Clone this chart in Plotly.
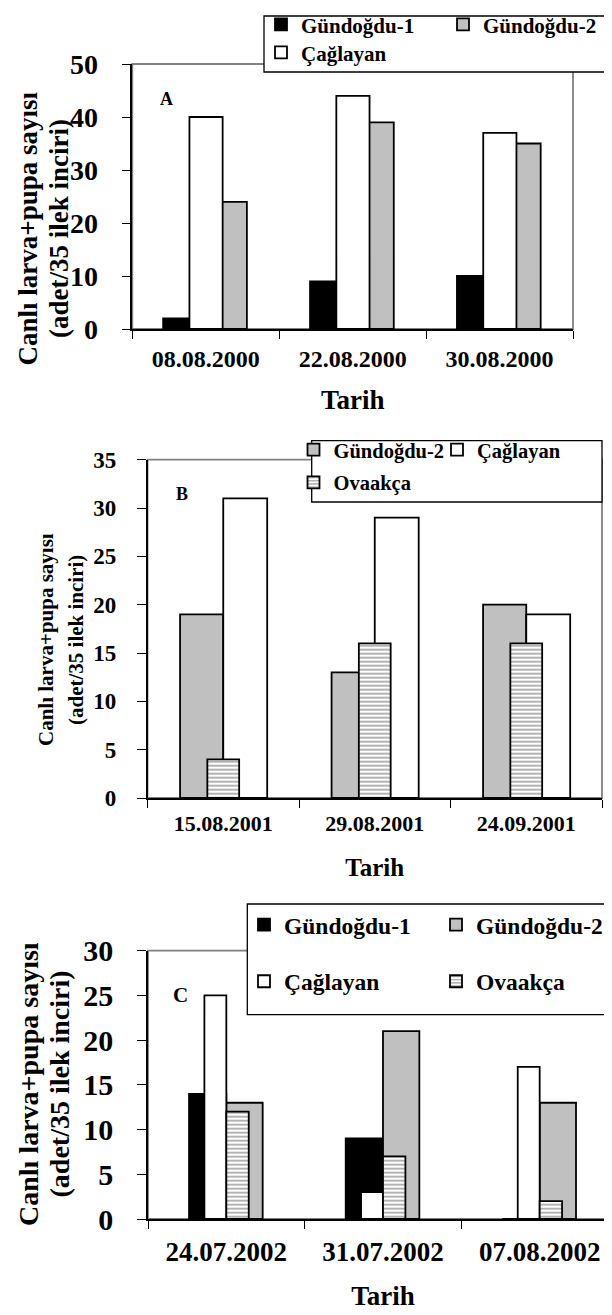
import plotly.graph_objects as go

W, H = 612, 1315

# ---------------- data ----------------
dates_a = ["08.08.2000", "22.08.2000", "30.08.2000"]
a_gundogdu1 = [2, 9, 10]
a_caglayan = [40, 44, 37]
a_gundogdu2 = [24, 39, 35]

dates_b = ["15.08.2001", "29.08.2001", "24.09.2001"]
b_gundogdu2 = [19, 13, 20]
b_caglayan = [31, 29, 19]
b_ovaakca = [4, 16, 16]

dates_c = ["24.07.2002", "31.07.2002", "07.08.2002"]
c_gundogdu1 = [14, 9, 0]
c_gundogdu2 = [13, 21, 13]
c_caglayan = [25, 3, 17]
c_ovaakca = [12, 7, 2]

names = {"g1": "Gündoğdu-1", "g2": "Gündoğdu-2", "c": "Çağlayan", "o": "Ovaakça"}
ytitle_lines = ["Canlı larva+pupa sayısı", "(adet/35 ilek inciri)"]
xtitle = "Tarih"

# ---------------- helpers ----------------
FONT = "Liberation Serif"


def px(x):
    return x / W


def py(y):
    return 1 - y / H


styles = {
    "g1": dict(color="#000000"),
    "g2": dict(color="#C0C0C0"),
    "c": dict(color="#FFFFFF"),
    "o": dict(color="#FFFFFF", pattern=dict(shape="-", fgcolor="#000000",
                                            bgcolor="#FFFFFF", size=4, solidity=0.3)),
}

fig = go.Figure()


def add_bar(key, x, y, xa, ya, offset, width, legend):
    m = dict(styles[key])
    m["line"] = dict(color="#000000", width=1.8)
    fig.add_trace(go.Bar(x=x, y=y, name=names[key], marker=m, offset=offset, width=width,
                         xaxis=xa, yaxis=ya, legend=legend, showlegend=True))


# Panel A (draw order: black, gray, white on top)
add_bar("g1", dates_a, a_gundogdu1, "x", "y", -0.29, 0.226, "legend")
add_bar("g2", dates_a, a_gundogdu2, "x", "y", 0.054, 0.226, "legend2")
add_bar("c", dates_a, a_caglayan, "x", "y", -0.111, 0.226, "legend3")

# Panel B (gray, white, striped on top)
add_bar("g2", dates_b, b_gundogdu2, "x2", "y2", -0.285, 0.285, "legend4")
add_bar("c", dates_b, b_caglayan, "x2", "y2", 0.0, 0.29, "legend5")
add_bar("o", dates_b, b_ovaakca, "x2", "y2", -0.105, 0.21, "legend6")

# Panel C (black, gray, then white and striped on top)
add_bar("g1", dates_c, c_gundogdu1, "x3", "y3", -0.238, 0.238, "legend7")
add_bar("g2", dates_c, c_gundogdu2, "x3", "y3", 0.0, 0.232, "legend8")
add_bar("c", dates_c, c_caglayan, "x3", "y3", -0.14, 0.14, "legend9")
add_bar("o", dates_c, c_ovaakca, "x3", "y3", 0.0, 0.143, "legend10")

# ---------------- axes ----------------
panels = [
    # (suffix, xdomain px, ydomain px (top,bottom), ymax, dtick, ytickfont, datefont, tarihfont,
    #  ylabel standoff, date standoff, title standoff)
    ("", (124.3, 565), (56, 321), 50, 10, 28, 24, 27, 18, 7, 20),
    ("2", (139.5, 594), (451.7, 790), 35, 5, 23, 22, 25, 16, 5, 23),
    ("3", (140, 610), (942.7, 1211), 30, 5, 30, 27, 27, 18, 8, 20),
]

layout = dict(
    width=W, height=H,
    margin=dict(l=0, r=0, t=0, b=0, autoexpand=False),
    paper_bgcolor="white", plot_bgcolor="white",
    barmode="overlay",
    font=dict(family=FONT, color="#000000", weight="bold"),
    showlegend=True,
)

shapes = []
for suf, (x0, x1), (ytop, ybot), ymax, dt, ytf, dfont, tfont, ystand, xstand, tstand in panels:
    xa = "xaxis" + suf
    ya = "yaxis" + suf
    layout[xa] = dict(
        domain=[px(x0), px(x1)], anchor="y" + suf, type="category",
        range=[-0.5, 2.5], tickson="boundaries", ticks="outside", ticklen=8,
        tickwidth=1.3, tickcolor="#000000", showline=True, linecolor="#000000",
        linewidth=1.5, showgrid=False, zeroline=False,
        tickfont=dict(family=FONT, size=dfont, color="#000000", weight="bold"),
        ticklabelstandoff=xstand,
        title=dict(text=xtitle, standoff=tstand,
                   font=dict(family=FONT, size=tfont, color="#000000", weight="bold")),
    )
    layout[ya] = dict(
        domain=[py(ybot), py(ytop)], anchor="x" + suf, range=[0, ymax],
        tickmode="linear", tick0=0, dtick=dt, ticks="outside", ticklen=9,
        tickwidth=1.3, tickcolor="#000000", showline=True, linecolor="#000000",
        linewidth=1.5, showgrid=False, zeroline=False,
        tickfont=dict(family=FONT, size=ytf, color="#000000", weight="bold"),
        ticklabelstandoff=ystand,
    )
    # gray plot frame (top / right)
    shapes.append(dict(type="rect", xref="x" + suf + " domain", yref="y" + suf + " domain",
                       x0=0, x1=1, y0=0, y1=1, line=dict(color="#808080", width=1.8),
                       fillcolor="rgba(0,0,0,0)", layer="below"))

# legend boxes
for (bx0, bx1, by0, by1) in [(256, 640, 8, 64), (303.7, 594, 432.7, 494), (239.3, 640, 896, 1006.7)]:
    shapes.append(dict(type="rect", xref="paper", yref="paper",
                       x0=px(bx0), x1=px(bx1), y0=py(by1), y1=py(by0),
                       line=dict(color="#000000", width=1.3), fillcolor="white", layer="above"))
layout["shapes"] = shapes

# legends (one per entry, placed precisely): text start x, row centre y, font size
leg_specs = {
    "legend": (300, 24, 21),
    "legend2": (482, 24, 21),
    "legend3": (300, 52, 21),
    "legend4": (332.5, 449, 20.5),
    "legend5": (476, 449, 20.5),
    "legend6": (332.5, 481.7, 20.5),
    "legend7": (283, 925, 23.5),
    "legend8": (475, 925, 23.5),
    "legend9": (283, 981.7, 23.5),
    "legend10": (475, 981.7, 23.5),
}
for key, (tx, ty, fs) in leg_specs.items():
    layout[key] = dict(
        x=px(tx - 47), y=py(ty - 0.35 * fs), xanchor="left", yanchor="middle",
        bgcolor="rgba(0,0,0,0)", borderwidth=0, orientation="h",
        font=dict(family=FONT, size=fs, color="#000000", weight="bold"),
        itemclick=False, itemdoubleclick=False,
    )

# annotations: panel letters and y titles (each title line placed separately)
ann = []
for letter, (lx, ly), fs in [("A", (158, 91), 18), ("B", (174, 486), 18), ("C", (172, 987), 21)]:
    ann.append(dict(text=letter, x=px(lx), y=py(ly), xref="paper", yref="paper",
                    showarrow=False, xanchor="center", yanchor="middle",
                    font=dict(family=FONT, size=fs, color="#000000", weight="bold")))
# (x centre of each rotated line, y centre, font size)
title_specs = [
    ((19.5, 51), 221, 27),
    ((38, 68), 632, 21),
    ((20, 50.5), 1076, 28),
]
for (lx1, lx2), ty, fs in title_specs:
    for line, lx in zip(ytitle_lines, (lx1, lx2)):
        ann.append(dict(text=line, x=px(lx), y=py(ty), xref="paper", yref="paper",
                        showarrow=False, xanchor="center", yanchor="middle", textangle=-90,
                        font=dict(family=FONT, size=fs, color="#000000", weight="bold")))
layout["annotations"] = ann

fig.update_layout(**layout)
fig.write_html("out.html")
